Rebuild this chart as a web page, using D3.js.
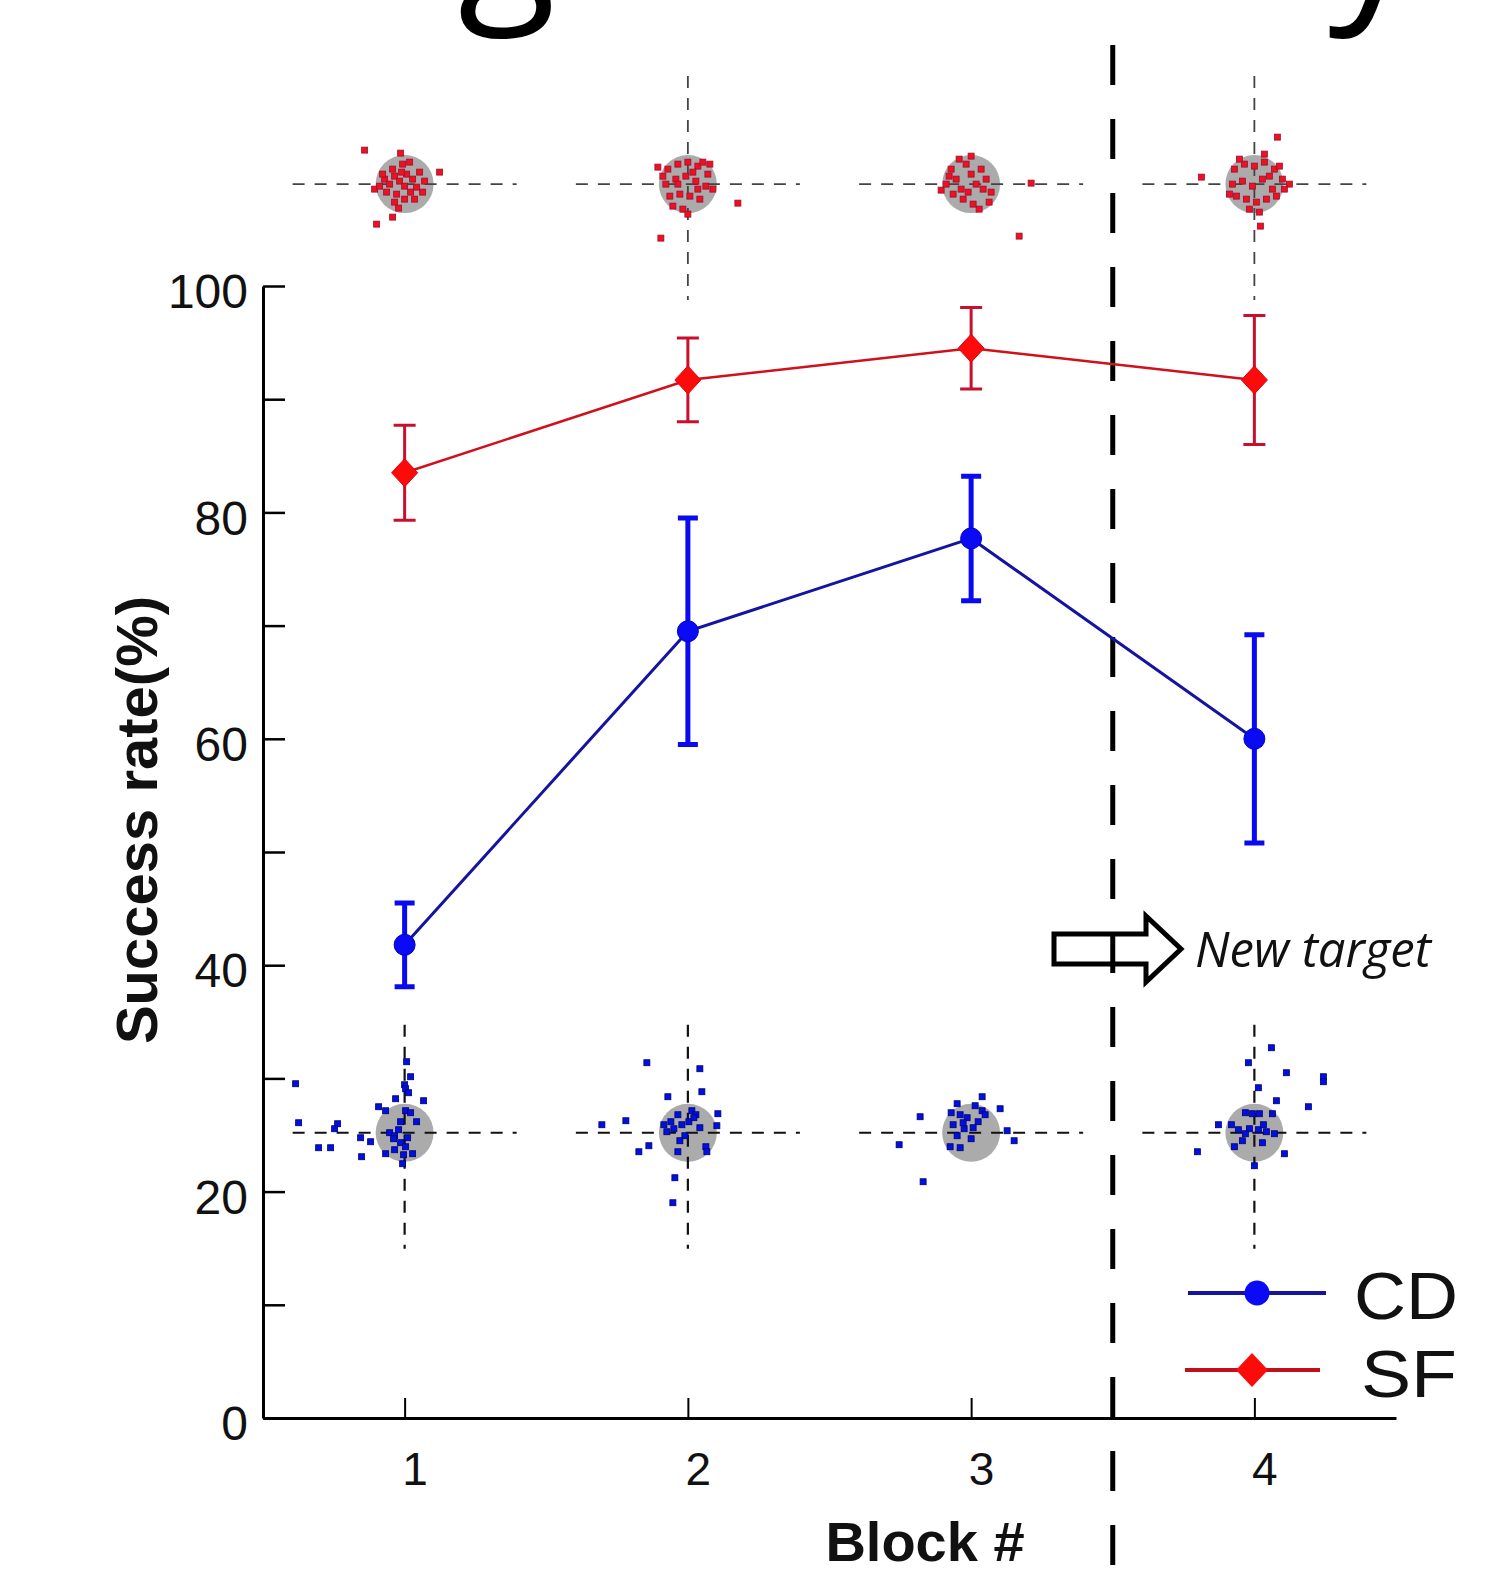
<!DOCTYPE html>
<html><head><meta charset="utf-8">
<script src="https://cdn.jsdelivr.net/npm/d3@7/dist/d3.min.js"></script>
<style>
html,body{margin:0;padding:0;background:#fff;}
svg{display:block;}
</style></head>
<body>
<svg id="chart" width="1506" height="1574"></svg>
<script>
// ---------- data ----------
const blocks = [1, 2, 3, 4];
const blockLabels = ["1", "2", "3", "4"];
const cdMean = [41.8, 69.5, 77.7, 60.0];
const cdErr  = [3.7, 10.0, 5.5, 9.2];
const sfMean = [83.5, 91.7, 94.5, 91.7];
const sfErr  = [4.2, 3.7, 3.6, 5.7];
const yTickValues = [0, 10, 20, 30, 40, 50, 60, 70, 80, 90, 100];
const yTickLabels = ["0", "", "20", "", "40", "", "60", "", "80", "", "100"];
const seriesNames = ["CD", "SF"];
const newTargetLabel = "New target";
const xTitle = "Block #";
const yTitle = "Success rate(%)";
const titleFragments = ["g", "y"]; // glyphs of the cropped title visible at the top edge
const targetRadius = 2.9; // endpoint-scatter units

// endpoint scatter (SF, top insets) – offsets [dx, dy]
const sfScatter1 = [[-4.0,-3.4],[3.5,-1.2],[-2.8,4.0],[-1.2,3.3],[-0.4,-3.1],[-3.0,0.5],[-2.0,-0.5],[-1.5,0],[-1.0,-0.8],[-0.5,-0.3],[0,0.2],[-1.8,0.8],[-0.8,1.0],[0.2,-1.0],[0.8,-0.5],[1.2,0.3],[-1.2,-1.5],[-0.2,-2.0],[0.5,-2.2],[1.5,-1.2],[1.8,0.8],[-2.2,-1.0],[-2.5,0.2],[-1.0,1.8],[0,1.5],[1.0,1.5],[-0.6,2.4],[2.0,-0.3],[-0.3,-1.2],[0.6,0.8]];
const sfScatter2 = [[-3.0,-1.7],[5.0,1.9],[-2.7,5.4],[-2.0,-1.5],[-1.0,-2.0],[0,-2.2],[1.0,-1.8],[2.0,-1.0],[-2.2,0],[-1.2,-0.5],[-0.2,-0.8],[0.8,-0.3],[1.8,0.2],[2.5,0.5],[-1.8,1.2],[-0.8,1.0],[0.2,1.2],[1.2,1.5],[-1.5,2.2],[-0.5,2.5],[0.5,-1.2],[1.5,-2.2],[-2.5,-0.8],[2.2,-2.0],[0,3.0],[-1.0,0],[1.0,0.5]];
const sfScatter3 = [[6.0,-0.1],[4.8,5.2],[-3.0,0.6],[-2.0,-1.5],[-1.5,-0.5],[-1.0,0.5],[-0.5,-2.0],[0,-1.0],[0.5,0],[-1.8,1.0],[-0.8,1.5],[0.2,2.0],[1.0,-1.5],[1.5,-0.5],[2.0,0.8],[-2.5,0],[-1.2,-2.5],[0.8,2.5],[1.8,1.8],[-0.3,0.8],[-2.2,-0.8],[1.2,0.5],[0,-2.8]];
const sfScatter4 = [[2.3,-4.7],[-5.3,-0.7],[0.6,4.2],[3.5,0],[-2.0,-1.5],[-1.0,-2.0],[0,-1.8],[1.0,-2.2],[2.0,-1.5],[2.8,-0.5],[-2.2,0],[-1.2,-0.3],[-0.2,0.2],[0.8,-0.5],[1.8,0.5],[3.0,0.5],[-1.8,1.2],[-0.8,1.5],[0.2,1.8],[1.2,1.5],[2.2,1.2],[-0.5,2.5],[0.5,2.8],[1.5,-0.8],[-1.5,-2.5],[1.0,-3.0],[2.5,-1.8],[-2.5,1.0]];
// endpoint scatter (CD, bottom insets)
const cdScatter1 = [[0.2,-7.1],[0.6,-5.6],[0,-4.8],[0.1,-4.4],[0.4,-4.0],[1.9,-3.2],[-0.9,-3.4],[-2.6,-2.6],[-1.9,-2.2],[0.1,-2.2],[1.2,-1.1],[-0.4,-1.1],[-10.9,-4.9],[-10.6,-1.0],[-6.7,-0.9],[-7.0,-0.4],[-8.6,1.5],[-7.4,1.5],[-4.4,0.5],[-3.4,0.9],[-4.3,2.4],[-1.5,0],[-1.0,0.3],[-1.1,0.6],[-1.9,2.1],[-1.0,1.7],[-0.1,2.2],[0.8,2.1],[-0.2,3.1],[-0.4,1.0],[0.1,1.4],[0.6,-2.0],[-0.6,-0.3],[0.3,0.5]];
const cdScatter2 = [[-4.1,-7.0],[1.2,-6.4],[1.4,-4.1],[-2.0,-3.6],[-8.6,-0.8],[-6.2,-1.2],[-4.9,1.9],[-3.9,1.3],[3.0,-1.9],[2.9,-0.7],[1.8,1.4],[1.9,1.9],[-1.3,4.5],[-1.5,7.0],[-1.0,1.9],[-1.7,-1.1],[-1.0,-1.8],[0.4,-2.2],[0.8,-1.8],[-2.1,-0.1],[-1.4,-0.4],[-0.6,-0.8],[0.1,-1.1],[-0.3,0.3],[0.6,-1.5],[-2.4,-0.8],[1.2,-0.5],[-0.8,0.8]];
const cdScatter3 = [[1.1,-3.6],[2.9,-2.4],[-5.1,-1.6],[-7.2,1.2],[-4.8,4.9],[3.6,-0.2],[4.3,0.8],[-1.4,-2.9],[0.4,-2.7],[1.1,-2.2],[1.4,-1.8],[-1.1,-1.8],[-1.8,-0.8],[-0.7,-0.4],[-1.4,0.3],[0,0.6],[-2.1,1.4],[-1.1,1.5],[0.7,-1.1],[-0.4,-1.5],[-2.0,-2.0],[-0.8,-1.0],[0.2,-0.5]];
const cdScatter4 = [[1.7,-8.5],[-0.6,-7.0],[3.2,-6.0],[6.9,-5.6],[6.9,-5.1],[0.4,-4.5],[2.2,-3.2],[5.4,-2.6],[-5.7,1.9],[3.0,2.1],[0,3.3],[-2.0,1.4],[-3.6,-0.8],[-2.3,-0.8],[-0.9,-2.0],[-0.2,-1.9],[0.5,-1.9],[1.8,-1.9],[-0.5,-0.4],[0.4,-0.3],[1.2,-0.1],[2.0,0.1],[-0.9,0.1],[-1.6,-0.3],[0.9,-0.8],[-1.2,0.8],[0.8,1.0]];

const sfScatter = [sfScatter1, sfScatter2, sfScatter3, sfScatter4];
const cdScatter = [cdScatter1, cdScatter2, cdScatter3, cdScatter4];

// ---------- drawing ----------
const svg = d3.select("#chart");
const x = d3.scaleLinear().domain([0.5, 4.5]).range([263, 1396]);
const y = d3.scaleLinear().domain([0, 100]).range([1418, 286]);
const s = d3.scaleLinear().domain([-1, 1]).range([-10, 10]); // scatter offset scale
const FONT = "'Liberation Sans', Arial, sans-serif";

// cropped title glyphs at the very top edge (the title itself lies above the picture)
svg.append("text").attr("x", 458).attr("y", -4).attr("font-family", "'Open Sans', sans-serif")
  .attr("font-size", 180).attr("fill", "#000").text(titleFragments[0]);
svg.append("text").attr("x", 1328).attr("y", -4).attr("font-family", "'Open Sans', sans-serif")
  .attr("font-size", 180).attr("fill", "#000").text(titleFragments[1]);

// axes
const yAxis = d3.axisLeft(y).tickValues(yTickValues)
  .tickFormat((d, i) => yTickLabels[i]).tickSizeInner(-22).tickSizeOuter(0).tickPadding(15);
const gy = svg.append("g").attr("transform", `translate(${x(0.5)},0)`).call(yAxis);
gy.select(".domain").attr("stroke", "#000").attr("stroke-width", 3);
gy.selectAll(".tick line").attr("stroke", "#000").attr("stroke-width", 2.5);
gy.selectAll(".tick text").attr("font-family", FONT).attr("font-size", 48).attr("fill", "#111").attr("dy", "0.45em");

const xAxis = d3.axisBottom(x).tickValues(blocks)
  .tickFormat((d, i) => blockLabels[i]).tickSizeInner(-20).tickSizeOuter(0).tickPadding(34);
const gx = svg.append("g").attr("transform", `translate(0,${y(0)})`).call(xAxis);
gx.select(".domain").attr("stroke", "#000").attr("stroke-width", 3);
gx.selectAll(".tick line").attr("stroke", "#000").attr("stroke-width", 2);
gx.selectAll(".tick text").attr("font-family", FONT).attr("font-size", 46).attr("fill", "#111").attr("dx", 10);

// axis titles
svg.append("text").attr("transform", `translate(157,820) rotate(-90)`)
  .attr("text-anchor", "middle").attr("font-family", FONT).attr("font-weight", "bold")
  .attr("font-size", 58).attr("fill", "#111").text(yTitle);
svg.append("text").attr("x", 925).attr("y", 1561).attr("text-anchor", "middle")
  .attr("font-family", FONT).attr("font-weight", "bold").attr("font-size", 56).attr("fill", "#111").text(xTitle);

// endpoint insets
function inset(cy, data, color, stroke, vertFlags, lineColor, lineW) {
  blocks.forEach((b, i) => {
    const cx = x(b);
    const g = svg.append("g").attr("transform", `translate(${cx},${cy})`);
    g.append("circle").attr("r", s(targetRadius)).attr("fill", "#a2a2a2").attr("opacity", 0.9);
    g.append("line").attr("x1", -112).attr("x2", 112).attr("y1", 0).attr("y2", 0)
      .attr("stroke", lineColor).attr("stroke-width", lineW).attr("stroke-dasharray", "12,10");
    if (vertFlags[i]) {
      g.append("line").attr("x1", 0).attr("x2", 0).attr("y1", -108).attr("y2", 116)
        .attr("stroke", lineColor).attr("stroke-width", lineW).attr("stroke-dasharray", "12,10");
    }
    g.selectAll("rect.pt").data(data[i]).join("rect").attr("class", "pt")
      .attr("x", d => s(d[0]) - 3).attr("y", d => s(d[1]) - 3)
      .attr("width", 6).attr("height", 6)
      .attr("fill", color).attr("stroke", stroke).attr("stroke-width", 0.8);
  });
}
inset(y(109), sfScatter, "#f01020", "#9a1030", [false, true, false, true], "#444", 1.8);
inset(y(25.2), cdScatter, "#0010e0", "#000070", [true, true, false, true], "#111", 2.2);

// arrow "New target"
const ay = 949;
const arrowPts = [[1054, ay - 15], [1146, ay - 15], [1146, ay - 33], [1181, ay], [1146, ay + 33], [1146, ay + 15], [1054, ay + 15]];
svg.append("path").attr("d", d3.line()(arrowPts) + "Z").attr("fill", "#fff")
  .attr("stroke", "#000").attr("stroke-width", 5).attr("stroke-linejoin", "miter");
svg.append("text").attr("x", 1195).attr("y", 967).attr("font-family", "'Open Sans', sans-serif")
  .attr("font-style", "italic").attr("font-size", 49).attr("fill", "#111").text(newTargetLabel);

// "new target" separator
svg.append("line").attr("x1", x(3.5)).attr("x2", x(3.5)).attr("y1", 45).attr("y2", 1574)
  .attr("stroke", "#000").attr("stroke-width", 5).attr("stroke-dasharray", "40,34");

// SF series
const line = d3.line().x((d, i) => x(blocks[i])).y(d => y(d));
svg.append("path").attr("d", line(sfMean)).attr("fill", "none").attr("stroke", "#d0101a").attr("stroke-width", 2.5);
blocks.forEach((b, i) => {
  const cx = x(b), top = y(sfMean[i] + sfErr[i]), bot = y(sfMean[i] - sfErr[i]);
  svg.append("path").attr("d", `M${cx},${top}V${bot}M${cx - 11},${top}H${cx + 11}M${cx - 11},${bot}H${cx + 11}`)
    .attr("stroke", "#c8102e").attr("stroke-width", 3).attr("fill", "none");
});
svg.selectAll("path.sfm").data(sfMean).join("path").attr("class", "sfm")
  .attr("d", (d, i) => { const cx = x(blocks[i]), cy = y(d); return `M${cx},${cy - 14}L${cx + 13},${cy}L${cx},${cy + 14}L${cx - 13},${cy}Z`; })
  .attr("fill", "#ff0a0a").attr("stroke", "#e00010").attr("stroke-width", 1);

// CD series
svg.append("path").attr("d", line(cdMean)).attr("fill", "none").attr("stroke", "#1414a0").attr("stroke-width", 3);
blocks.forEach((b, i) => {
  const cx = x(b), top = y(cdMean[i] + cdErr[i]), bot = y(cdMean[i] - cdErr[i]);
  svg.append("path").attr("d", `M${cx},${top}V${bot}M${cx - 10},${top}H${cx + 10}M${cx - 10},${bot}H${cx + 10}`)
    .attr("stroke", "#0a0af0").attr("stroke-width", 5).attr("fill", "none");
});
svg.selectAll("circle.cdm").data(cdMean).join("circle").attr("class", "cdm")
  .attr("cx", (d, i) => x(blocks[i])).attr("cy", d => y(d)).attr("r", 10.5)
  .attr("fill", "#0a0af5").attr("stroke", "#0000c0").attr("stroke-width", 1);

// legend
const lg = svg.append("g");
lg.append("line").attr("x1", 1188).attr("x2", 1326).attr("y1", 1293).attr("y2", 1293).attr("stroke", "#1414a0").attr("stroke-width", 4);
lg.append("circle").attr("cx", 1257).attr("cy", 1293).attr("r", 12.5).attr("fill", "#0a0af5");
lg.append("text").attr("x", 1354).attr("y", 1319).attr("font-family", FONT).attr("font-size", 66)
  .attr("textLength", 104).attr("lengthAdjust", "spacingAndGlyphs").attr("fill", "#111").text(seriesNames[0]);
lg.append("line").attr("x1", 1185).attr("x2", 1320).attr("y1", 1370).attr("y2", 1370).attr("stroke", "#c0101a").attr("stroke-width", 4);
lg.append("path").attr("d", "M1252,1353L1268,1370L1252,1387L1236,1370Z").attr("fill", "#ff0a0a");
lg.append("text").attr("x", 1361).attr("y", 1397).attr("font-family", FONT).attr("font-size", 66)
  .attr("textLength", 96).attr("lengthAdjust", "spacingAndGlyphs").attr("fill", "#111").text(seriesNames[1]);
</script>
</body></html>
